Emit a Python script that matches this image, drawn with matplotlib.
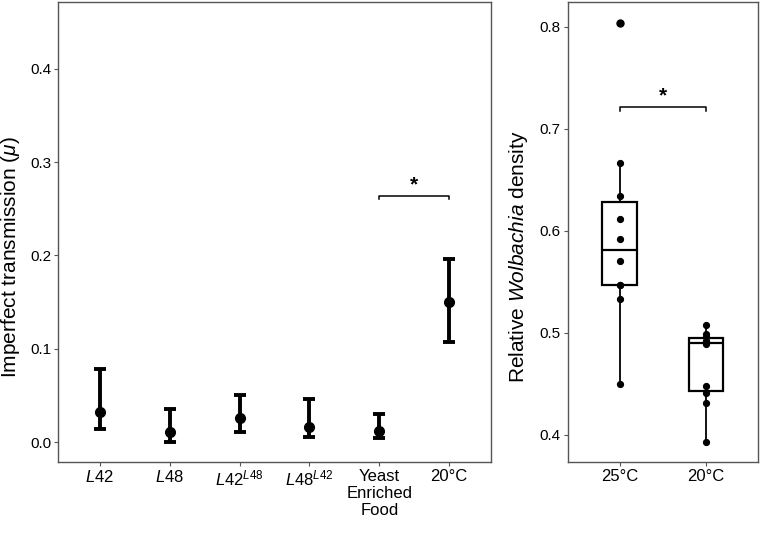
import numpy as np
import matplotlib
matplotlib.use('Agg')
import matplotlib.pyplot as plt

plt.rcParams['font.family'] = ['Liberation Sans', 'DejaVu Sans']
plt.rcParams['mathtext.fontset'] = 'custom'
plt.rcParams['mathtext.rm'] = 'Liberation Sans'
plt.rcParams['mathtext.it'] = 'Liberation Sans:italic'

# left panel: imperfect transmission estimates with intervals
groups = [r'$\mathit{L42}$', r'$\mathit{L48}$', r'$\mathit{L42}^{\mathit{L48}}$',
          r'$\mathit{L48}^{\mathit{L42}}$', 'Yeast\nEnriched\nFood', '20°C']
mu = [0.0325, 0.0104, 0.0257, 0.0157, 0.0115, 0.150]
mu_low = [0.0143, 0.0, 0.0104, 0.0054, 0.0043, 0.107]
mu_high = [0.078, 0.035, 0.0507, 0.0457, 0.0297, 0.196]

# right panel: relative Wolbachia density
temps = ['25°C', '20°C']
density_25 = [0.4494, 0.5327, 0.5468, 0.5470, 0.5706, 0.5919, 0.6115, 0.6343, 0.6660, 0.8040]
density_20 = [0.3928, 0.4308, 0.4406, 0.4477, 0.4892, 0.4910, 0.4922, 0.4955, 0.4984, 0.5075]

spine_col = '#555555'

fig = plt.figure(figsize=(7.6, 5.46), dpi=100)
ax1 = fig.add_axes([58/760, 84/546, 433/760, 460/546])
ax2 = fig.add_axes([567.7/760, 84/546, 190/760, 460/546])

x = np.arange(1, len(groups) + 1)
mu = np.array(mu)
yerr = [mu - np.array(mu_low), np.array(mu_high) - mu]
ax1.errorbar(x, mu, yerr=yerr, fmt='o', color='black', ms=7, elinewidth=2.8,
             capsize=4.2, capthick=2.8)
ax1.set_xticks(x)
ax1.set_xticklabels(groups, fontsize=12, linespacing=1.15)
ax1.set_xlim(0.4, len(groups) + 0.6)
ax1.set_ylim(-0.0214, 0.4716)
ax1.set_yticks([0.0, 0.1, 0.2, 0.3, 0.4])
ax1.set_yticklabels(['0.0', '0.1', '0.2', '0.3', '0.4'], fontsize=11)
ax1.set_ylabel(r'Imperfect transmission ($\mathit{μ}$)', fontsize=15)
ax1.yaxis.set_label_coords(-0.083, 0.446)

# significance bar
sig_y = 0.264
ax1.plot([5, 5, 6, 6], [sig_y - 0.003, sig_y, sig_y, sig_y - 0.003], color='black', lw=1.1)
ax1.text(5.5, sig_y + 0.001, '*', ha='center', va='bottom', fontsize=15, fontweight='bold')

# boxplot
data = [density_25, density_20]
bp = ax2.boxplot(data, positions=[1, 2], widths=0.4, patch_artist=True,
                 showfliers=True, whis=1.5,
                 boxprops=dict(facecolor='white', edgecolor='black', linewidth=1.6),
                 medianprops=dict(color='black', linewidth=1.6),
                 whiskerprops=dict(color='black', linewidth=1.3),
                 capprops=dict(linewidth=0),
                 flierprops=dict(marker='o', markerfacecolor='black', markeredgecolor='black',
                                 markersize=5))
for i, vals in enumerate(data):
    ax2.plot(np.full(len(vals), i + 1), vals, 'o', color='black', ms=4.2, zorder=3)
ax2.set_xticks([1, 2])
ax2.set_xticklabels(temps, fontsize=12)
ax2.set_xlim(0.4, 2.6)
ax2.set_ylim(0.3732, 0.8242)
ax2.set_yticks([0.4, 0.5, 0.6, 0.7, 0.8])
ax2.set_yticklabels(['0.4', '0.5', '0.6', '0.7', '0.8'], fontsize=11)
ax2.set_ylabel(r'Relative $\mathit{Wolbachia}$ density', fontsize=15)
ax2.yaxis.set_label_coords(-0.198, 0.446)

sig2 = 0.7216
ax2.plot([1, 1, 2, 2], [sig2 - 0.004, sig2, sig2, sig2 - 0.004], color='black', lw=1.1)
ax2.text(1.5, sig2 + 0.001, '*', ha='center', va='bottom', fontsize=15, fontweight='bold')

for ax in (ax1, ax2):
    for s in ax.spines.values():
        s.set_color(spine_col)
        s.set_linewidth(1.0)
    ax.tick_params(colors=spine_col, length=3, width=0.8, labelcolor='black', pad=2)

fig.savefig('out.png', dpi=100)
